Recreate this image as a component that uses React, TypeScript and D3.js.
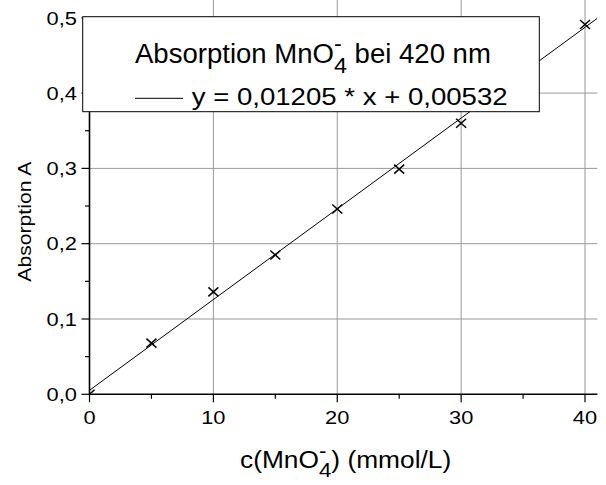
import React from "react";
import * as d3 from "d3";

const concentrations = [0, 5, 10, 15, 20, 25, 30, 40];
const absorptions = [0, 0.068, 0.136, 0.185, 0.246, 0.299, 0.36, 0.491];
const slope = 0.01205;
const intercept = 0.00532;
const xTicks = [0, 10, 20, 30, 40];
const xMinorTicks = [5, 15, 25, 35];
const yTicks = [0, 0.1, 0.2, 0.3, 0.4, 0.5];
const yMinorTicks = [0.05, 0.15, 0.25, 0.35, 0.45];
const xGrid = [10, 20, 30, 40];
const yGrid = [0.1, 0.2, 0.3, 0.4];

const W = 606;
const H = 485;
const FONT = "'Liberation Sans', Arial, sans-serif";

const fmt = (v: number) => v.toFixed(1).replace(".", ",");

function MnO4({ F, before, after }: { F: number; before: string; after: string }) {
  const s = 0.85;
  return (
    <text fontSize={F} fill="#000">
      {before}
      <tspan fontSize={F * s} dy={F * 0.38}>4</tspan>
      <tspan fontSize={F * s} dx={-0.556 * s * F} dy={-F * 0.81}>-</tspan>
      <tspan dx={(0.556 - 0.333) * s * F} dy={F * 0.43}>{after}</tspan>
    </text>
  );
}

export default function App() {
  const x = d3.scaleLinear().domain([0, 41]).range([89.5, 597.4]);
  const y = d3.scaleLinear().domain([0, 0.5236]).range([394.3, 0]);
  const x0 = x(0);
  const y0 = y(0);
  const xEnd = x.domain()[1];
  const lineGen = d3
    .line<number>()
    .x((d) => x(d))
    .y((d) => y(slope * d + intercept));
  const fitPath = lineGen([0, xEnd]) || "";

  const tickF = 19;
  const tickSx = 1.15;
  const legF = 27;
  const legSx = 1.02;
  const eqF = 23;
  const eqSx = 1.2;
  const xtF = 23.5;
  const xtSx = 1.12;
  const ytF = 19;

  const legendX = 82.7;
  const legendY = 16.7;
  const legendW = 456.6;
  const legendH = 95;

  return (
    <svg
      width={W}
      height={H}
      style={{ position: "absolute", left: 0, top: 0, background: "#fff" }}
      fontFamily={FONT}
    >
      <defs>
        <clipPath id="plotClip">
          <rect x={x0} y={0} width={x(xEnd) - x0} height={y0} />
        </clipPath>
      </defs>
      <rect x={0} y={0} width={W} height={H} fill="#fff" />
      {/* grid */}
      {xGrid.map((v) => (
        <line key={"gx" + v} x1={x(v)} x2={x(v)} y1={y0} y2={y(y.domain()[1])} stroke="#999" strokeWidth={1} />
      ))}
      {yGrid.map((v) => (
        <line key={"gy" + v} x1={x0} x2={x(xEnd)} y1={y(v)} y2={y(v)} stroke="#999" strokeWidth={1} />
      ))}
      {/* fit line */}
      <path d={fitPath} fill="none" stroke="#000" strokeWidth={1} clipPath="url(#plotClip)" />
      {/* markers */}
      <g clipPath="url(#plotClip)">
        {concentrations.map((c, i) => {
          const cx = x(c);
          const cy = y(absorptions[i]);
          const hw = 5;
          const hh = 4.5;
          return (
            <g key={"m" + i} stroke="#000" strokeWidth={1.5}>
              <line x1={cx - hw} y1={cy - hh} x2={cx + hw} y2={cy + hh} />
              <line x1={cx - hw} y1={cy + hh} x2={cx + hw} y2={cy - hh} />
            </g>
          );
        })}
      </g>
      {/* axes */}
      <line x1={x0} x2={x(xEnd)} y1={y0} y2={y0} stroke="#000" strokeWidth={1.6} />
      <line x1={x0} x2={x0} y1={y0 + 0.8} y2={y(0.5)} stroke="#000" strokeWidth={1.6} />
      {xTicks.map((v) => (
        <g key={"xt" + v}>
          <line x1={x(v)} x2={x(v)} y1={y0} y2={y0 + 8} stroke="#000" strokeWidth={1.2} />
          <g transform={`translate(${x(v)},424) scale(${tickSx},1)`}>
            <text textAnchor="middle" fontSize={tickF} fill="#000">
              {v}
            </text>
          </g>
        </g>
      ))}
      {xMinorTicks.map((v) => (
        <line key={"xm" + v} x1={x(v)} x2={x(v)} y1={y0} y2={y0 + 4.5} stroke="#000" strokeWidth={1.2} />
      ))}
      {yTicks.map((v) => (
        <g key={"yt" + v}>
          <line x1={x0 - 8} x2={x0} y1={y(v)} y2={y(v)} stroke="#000" strokeWidth={1.2} />
          <g transform={`translate(77,${y(v) + 6.8}) scale(${tickSx},1)`}>
            <text textAnchor="end" fontSize={tickF} fill="#000">
              {fmt(v)}
            </text>
          </g>
        </g>
      ))}
      {yMinorTicks.map((v) => (
        <line key={"ym" + v} x1={x0 - 4.5} x2={x0} y1={y(v)} y2={y(v)} stroke="#000" strokeWidth={1.2} />
      ))}
      {/* axis titles */}
      <g transform={`translate(240,467.7) scale(${xtSx},1)`}>
        <MnO4 F={xtF} before="c(MnO" after=") (mmol/L)" />
      </g>
      <g transform={`translate(31,221.7) rotate(-90)`}>
        <text textAnchor="middle" fontSize={ytF} fill="#000" textLength={120} lengthAdjust="spacingAndGlyphs">
          Absorption A
        </text>
      </g>
      {/* legend */}
      <rect x={legendX} y={legendY} width={legendW} height={legendH} fill="#fff" stroke="#000" strokeWidth={1} />
      <g transform={`translate(135,63) scale(${legSx},1)`}>
        <MnO4 F={legF} before="Absorption MnO" after=" bei 420 nm" />
      </g>
      <line x1={135} x2={183} y1={98.3} y2={98.3} stroke="#000" strokeWidth={1} />
      <g transform={`translate(191.7,105) scale(${eqSx},1)`}>
        <text fontSize={eqF} fill="#000">
          {`y = ${String(slope).replace(".", ",")} * x + ${String(intercept).replace(".", ",")}`}
        </text>
      </g>
    </svg>
  );
}
